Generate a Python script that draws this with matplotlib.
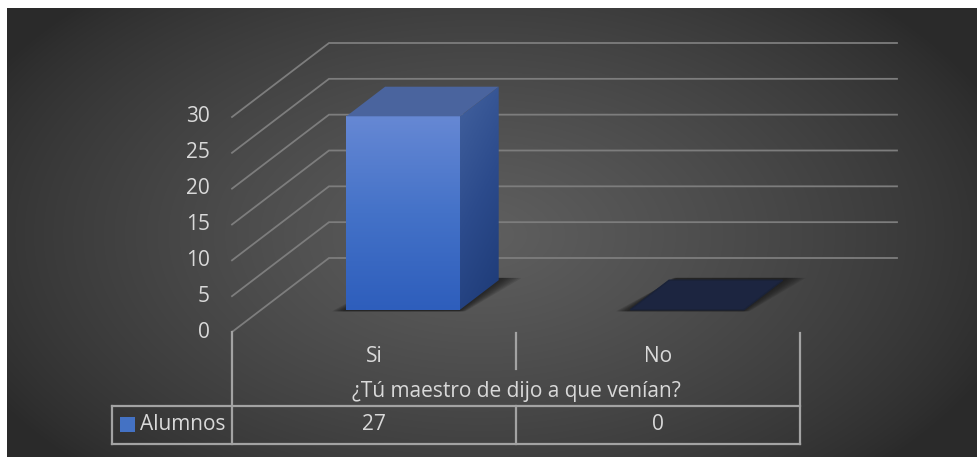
import numpy as np
import matplotlib
matplotlib.use("Agg")
import matplotlib.pyplot as plt
from matplotlib.patches import Polygon, Rectangle
from matplotlib.colors import LinearSegmentedColormap

categories = ["Si", "No"]
alumnos = [27, 0]
series_name = "Alumnos"
axis_title = "¿Tú maestro de dijo a que venían?"
y_ticks = [0, 5, 10, 15, 20, 25, 30]

W, H, DPI = 978, 457, 100
TXT = "#d9d9d9"
GRID = "#7d7d7d"
TABLE = "#a3a3a3"
FONT = "Open Sans"
FS = 15

# front plane layout (pixels): x=-0.5 at 232, one category = 284 px,
# value 0 at row 332, 7.1667 px per unit
X0_PX, CAT_PX = 232, 284.0
Y0_PX, UNIT_PX = 332, 215 / 30.0
# oblique depth vector for the full floor depth, in data units
DX = 97 / CAT_PX
DY = 74 / UNIT_PX
BAR_W = 0.40
D_FRONT, D_BACK = 0.30, 0.70


def row(py):
    # pixel row -> value units on the front plane
    return (Y0_PX - py) / UNIT_PX


def col(px):
    return -0.5 + (px - X0_PX) / CAT_PX


def proj(x, v, d):
    return (x + d * DX, v + d * DY)


fig = plt.figure(figsize=(W / DPI, H / DPI), dpi=DPI, facecolor="white")

# dark panel with a soft radial light
bg = fig.add_axes([7 / W, 0, 1 - 7 / W, 1 - 8 / H])
bg.set_axis_off()
py, px = np.mgrid[8:H:300j, 7:W:640j]
r = np.hypot((px - 480) / 560.0, (py - 235) / 330.0)
shade = 0.165 + 0.21 * np.clip(1 - r, 0, 1) ** 0.8
bg.imshow(np.dstack([shade] * 3), extent=[0, 1, 0, 1], aspect="auto",
          interpolation="bilinear")
bg.set_xlim(0, 1)
bg.set_ylim(0, 1)

ax = fig.add_axes([0, 0, 1, 1])
ax.set_axis_off()
ax.patch.set_alpha(0)
ax.set_xlim(col(0), col(W))
ax.set_ylim(row(H), row(0))

n = len(categories)
left, right = -0.5, n - 0.5

# side wall diagonals and back wall gridlines
for v in y_ticks:
    a = proj(left, v, 0)
    b = proj(left, v, 1)
    c = proj(right, v, 1)
    ax.plot([a[0], b[0], c[0]], [a[1], b[1], c[1]], color=GRID, lw=1.3,
            solid_joinstyle="miter")
    ax.text(col(210), v, str(v), ha="right", va="center", color=TXT,
            fontsize=FS, family=FONT)

front_cmap = LinearSegmentedColormap.from_list("front", ["#2e5ebc", "#4472c8", "#6688d4"])
side_cmap = LinearSegmentedColormap.from_list("side", ["#1d3a76", "#2c4b8c", "#42619e"])


def shadow(x0, x1):
    # soft dark footprint under each bar
    for k in range(8, 0, -1):
        e = k * 0.0055
        pts = [proj(x0 - e, 0, D_FRONT - 0.02), proj(x1 + e * 0.6, 0, D_FRONT - 0.02),
               proj(x1 + e * 1.6, 0, D_BACK + 0.03), proj(x0 + e * 0.4, 0, D_BACK + 0.03)]
        ax.add_patch(Polygon(pts, closed=True, facecolor="#141414", edgecolor="none",
                             alpha=0.13, zorder=2))


for i, val in enumerate(alumnos):
    x0, x1 = i - BAR_W / 2, i + BAR_W / 2
    shadow(x0, x1)
    fb = proj(x0, 0, D_FRONT)
    ft = proj(x1, val, D_FRONT)
    if val > 0:
        # front face with vertical gradient
        grad = np.linspace(0, 1, 256).reshape(-1, 1)
        ax.imshow(grad, cmap=front_cmap, origin="lower", aspect="auto",
                  extent=[fb[0], ft[0], fb[1], ft[1]], zorder=4,
                  interpolation="bilinear")
        # right side face
        side = [proj(x1, 0, D_FRONT), proj(x1, 0, D_BACK),
                proj(x1, val, D_BACK), proj(x1, val, D_FRONT)]
        sp = Polygon(side, closed=True, facecolor="none", edgecolor="none")
        ax.add_patch(sp)
        xs = [p[0] for p in side]
        ys = [p[1] for p in side]
        gy, gx = np.mgrid[0:1:200j, 0:1:60j]
        sg = np.clip(0.75 * gy + 0.25 * (1 - gx), 0, 1)
        im = ax.imshow(sg, cmap=side_cmap, origin="lower", aspect="auto",
                       extent=[min(xs), max(xs), min(ys), max(ys)], zorder=4,
                       interpolation="bilinear")
        im.set_clip_path(sp)
        top_color = "#4a649e"
    else:
        top_color = "#1c2540"
    top = [proj(x0, val, D_FRONT), proj(x1, val, D_FRONT),
           proj(x1, val, D_BACK), proj(x0, val, D_BACK)]
    ax.add_patch(Polygon(top, closed=True, facecolor=top_color,
                         edgecolor="#1a2238" if val == 0 else "none", lw=1, zorder=5))

ax.set_xlim(col(0), col(W))
ax.set_ylim(row(H), row(0))

# category axis and data table
lw = 1.6
ax.plot([left, left], [row(332), row(444)], color=TABLE, lw=lw)
ax.plot([right, right], [row(333), row(444)], color=TABLE, lw=lw)
for k in range(1, n):
    ax.plot([k - 0.5, k - 0.5], [row(333), row(369)], color=TABLE, lw=lw)
    ax.plot([k - 0.5, k - 0.5], [row(406), row(444)], color=TABLE, lw=lw)
ax.plot([col(112), right], [row(406), row(406)], color=TABLE, lw=lw)
ax.plot([col(112), right], [row(444), row(444)], color=TABLE, lw=lw)
ax.plot([col(112), col(112)], [row(406), row(444)], color=TABLE, lw=lw)

for i, (cat, val) in enumerate(zip(categories, alumnos)):
    ax.text(i, row(356), cat, ha="center", va="center", color=TXT,
            fontsize=FS, family=FONT)
    ax.text(i, row(425), str(val), ha="center", va="center", color=TXT,
            fontsize=FS, family=FONT)
ax.text((left + right) / 2, row(392), axis_title, ha="center", va="center",
        color=TXT, fontsize=FS, family=FONT)

ax.add_patch(Rectangle((col(120), row(432)), col(135) - col(120), row(417) - row(432),
                       facecolor="#4472c4", edgecolor="none"))
ax.text(col(140), row(425), series_name, ha="left", va="center", color=TXT,
        fontsize=FS, family=FONT)

fig.savefig("out.png", dpi=DPI, facecolor="white")
